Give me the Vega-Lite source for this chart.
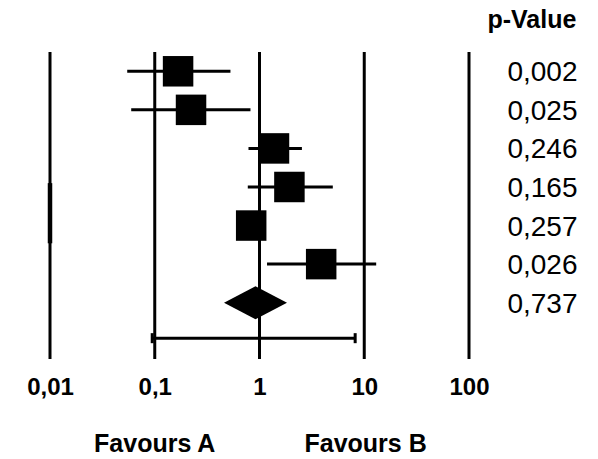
{
  "$schema": "https://vega.github.io/schema/vega-lite/v6.json",
  "autosize": "none",
  "width": 419,
  "height": 307,
  "padding": {"left": 50, "top": 52, "right": 129, "bottom": 100},
  "background": "white",
  "config": {"view": {"stroke": null}, "font": "Liberation Sans"},
  "datasets": {
    "refs": [{"v": 0.01}, {"v": 0.1}, {"v": 1}, {"v": 10}, {"v": 100}],
    "studies": [
      {"row": 1, "est": 0.167, "lo": 0.0546, "hi": 0.528, "p": "0,002"},
      {"row": 2, "est": 0.222, "lo": 0.0596, "hi": 0.82, "p": "0,025"},
      {"row": 3, "est": 1.375, "lo": 0.785, "hi": 2.54, "p": "0,246"},
      {"row": 4, "est": 1.93, "lo": 0.773, "hi": 5.01, "p": "0,165"},
      {"row": 5, "est": 0.833, "lo": null, "hi": null, "p": "0,257"},
      {"row": 6, "est": 3.88, "lo": 1.18, "hi": 13.0, "p": "0,026"}
    ],
    "pooled": [{"row": 7, "est": 0.916, "p": "0,737"}],
    "bracket": [{"row": 7.92, "lo": 0.0946, "hi": 8.19}],
    "brackEnds": [{"x": 0.0946, "y1": 7.79, "y2": 8.05}, {"x": 8.19, "y1": 7.79, "y2": 8.05}],
    "seg": [{"x": 0.01, "y1": 3.9, "y2": 5.46}],
    "favours": [{"x": 0.1, "row": 10.66, "t": "Favours A"}, {"x": 10.3, "row": 10.66, "t": "Favours B"}],
    "header": [{"row": -0.32, "t": "p-Value"}]
  },
  "layer": [
    {
      "data": {"name": "refs"},
      "mark": {"type": "rule", "color": "black", "strokeWidth": 3},
      "encoding": {
        "x": {
          "field": "v", "type": "quantitative",
          "scale": {"type": "log", "domain": [0.01, 100], "nice": false},
          "axis": {
            "values": [0.01, 0.1, 1, 10, 100],
            "labelExpr": "replace(format(datum.value, '~g'), '.', ',')",
            "domain": false, "ticks": false, "grid": false,
            "labelFont": "Liberation Sans", "labelFontWeight": "bold", "labelFontSize": 24,
            "labelColor": "black", "labelBaseline": "middle", "labelPadding": 28,
            "labelFlush": false, "labelOverlap": false, "title": null
          }
        },
        "y": {"datum": 0.5, "type": "quantitative", "scale": {"domain": [0.5, 8.46], "reverse": true, "nice": false, "zero": false}, "axis": null},
        "y2": {"datum": 8.46}
      }
    },
    {
      "data": {"name": "seg"},
      "mark": {"type": "rule", "color": "black", "strokeWidth": 4.5},
      "encoding": {
        "x": {"field": "x", "type": "quantitative"},
        "y": {"field": "y1", "type": "quantitative"},
        "y2": {"field": "y2"}
      }
    },
    {
      "data": {"name": "studies"},
      "transform": [{"filter": "datum.lo != null"}],
      "mark": {"type": "rule", "color": "black", "strokeWidth": 3},
      "encoding": {
        "x": {"field": "lo", "type": "quantitative"},
        "x2": {"field": "hi"},
        "y": {"field": "row", "type": "quantitative"}
      }
    },
    {
      "data": {"name": "studies"},
      "mark": {"type": "point", "shape": "square", "filled": true, "color": "black", "opacity": 1, "size": 930},
      "encoding": {
        "x": {"field": "est", "type": "quantitative"},
        "y": {"field": "row", "type": "quantitative"}
      }
    },
    {
      "data": {"name": "pooled"},
      "mark": {"type": "point", "shape": "M-1,0L0,-0.524L1,0L0,0.524Z", "filled": true, "color": "black", "opacity": 1, "size": 3969},
      "encoding": {
        "x": {"field": "est", "type": "quantitative"},
        "y": {"field": "row", "type": "quantitative"}
      }
    },
    {
      "data": {"name": "bracket"},
      "mark": {"type": "rule", "color": "black", "strokeWidth": 3},
      "encoding": {
        "x": {"field": "lo", "type": "quantitative"},
        "x2": {"field": "hi"},
        "y": {"field": "row", "type": "quantitative"}
      }
    },
    {
      "data": {"name": "brackEnds"},
      "mark": {"type": "rule", "color": "black", "strokeWidth": 3},
      "encoding": {
        "x": {"field": "x", "type": "quantitative"},
        "y": {"field": "y1", "type": "quantitative"},
        "y2": {"field": "y2"}
      }
    },
    {
      "data": {"name": "studies"},
      "mark": {"type": "text", "align": "right", "baseline": "middle", "fontSize": 28, "font": "Liberation Sans", "color": "black", "dy": 2},
      "encoding": {
        "x": {"datum": 1086, "type": "quantitative"},
        "y": {"field": "row", "type": "quantitative"},
        "text": {"field": "p"}
      }
    },
    {
      "data": {"name": "pooled"},
      "mark": {"type": "text", "align": "right", "baseline": "middle", "fontSize": 28, "font": "Liberation Sans", "color": "black", "dy": 2},
      "encoding": {
        "x": {"datum": 1086, "type": "quantitative"},
        "y": {"field": "row", "type": "quantitative"},
        "text": {"field": "p"}
      }
    },
    {
      "data": {"name": "header"},
      "mark": {"type": "text", "align": "right", "baseline": "middle", "fontSize": 25, "fontWeight": "bold", "font": "Liberation Sans", "color": "black"},
      "encoding": {
        "x": {"datum": 1060, "type": "quantitative"},
        "y": {"field": "row", "type": "quantitative"},
        "text": {"field": "t"}
      }
    },
    {
      "data": {"name": "favours"},
      "mark": {"type": "text", "align": "center", "baseline": "middle", "fontSize": 25, "fontWeight": "bold", "font": "Liberation Sans", "color": "black"},
      "encoding": {
        "x": {"field": "x", "type": "quantitative"},
        "y": {"field": "row", "type": "quantitative"},
        "text": {"field": "t"}
      }
    }
  ]
}
